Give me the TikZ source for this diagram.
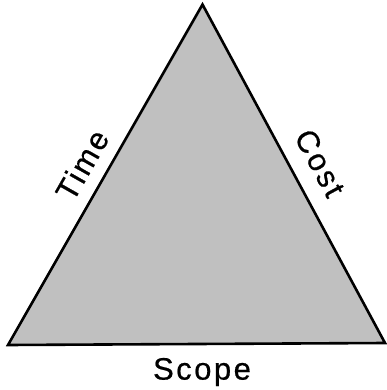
\documentclass[tikz,border=0pt]{standalone}
\usepackage{fontspec}
\setmainfont{Liberation Sans}[FakeBold=0.6]
\begin{document}
\begin{tikzpicture}[x=1pt,y=-1pt,
  edge/.style={draw=black,line width=2.6pt,line join=miter,fill={rgb,255:red,192;green,192;blue,192}},
  lbl/.style={inner sep=0pt,font=\fontsize{31}{31}\selectfont\addfontfeature{LetterSpace=8}}]
\useasboundingbox (0,0) rectangle (386,390);
\coordinate (T) at (202.5,4.5);
\coordinate (L) at (8,345);
\coordinate (R) at (385,343);
\path[edge] (T) -- (L) -- (R) -- cycle;
\node[lbl,rotate=60.4] (time) at (82,165) {Time};
\node[lbl,rotate=-61.6] (cost) at (320,163) {Cost};
\node[lbl] (scope) at (202,372) {Scope};
\end{tikzpicture}
\end{document}
